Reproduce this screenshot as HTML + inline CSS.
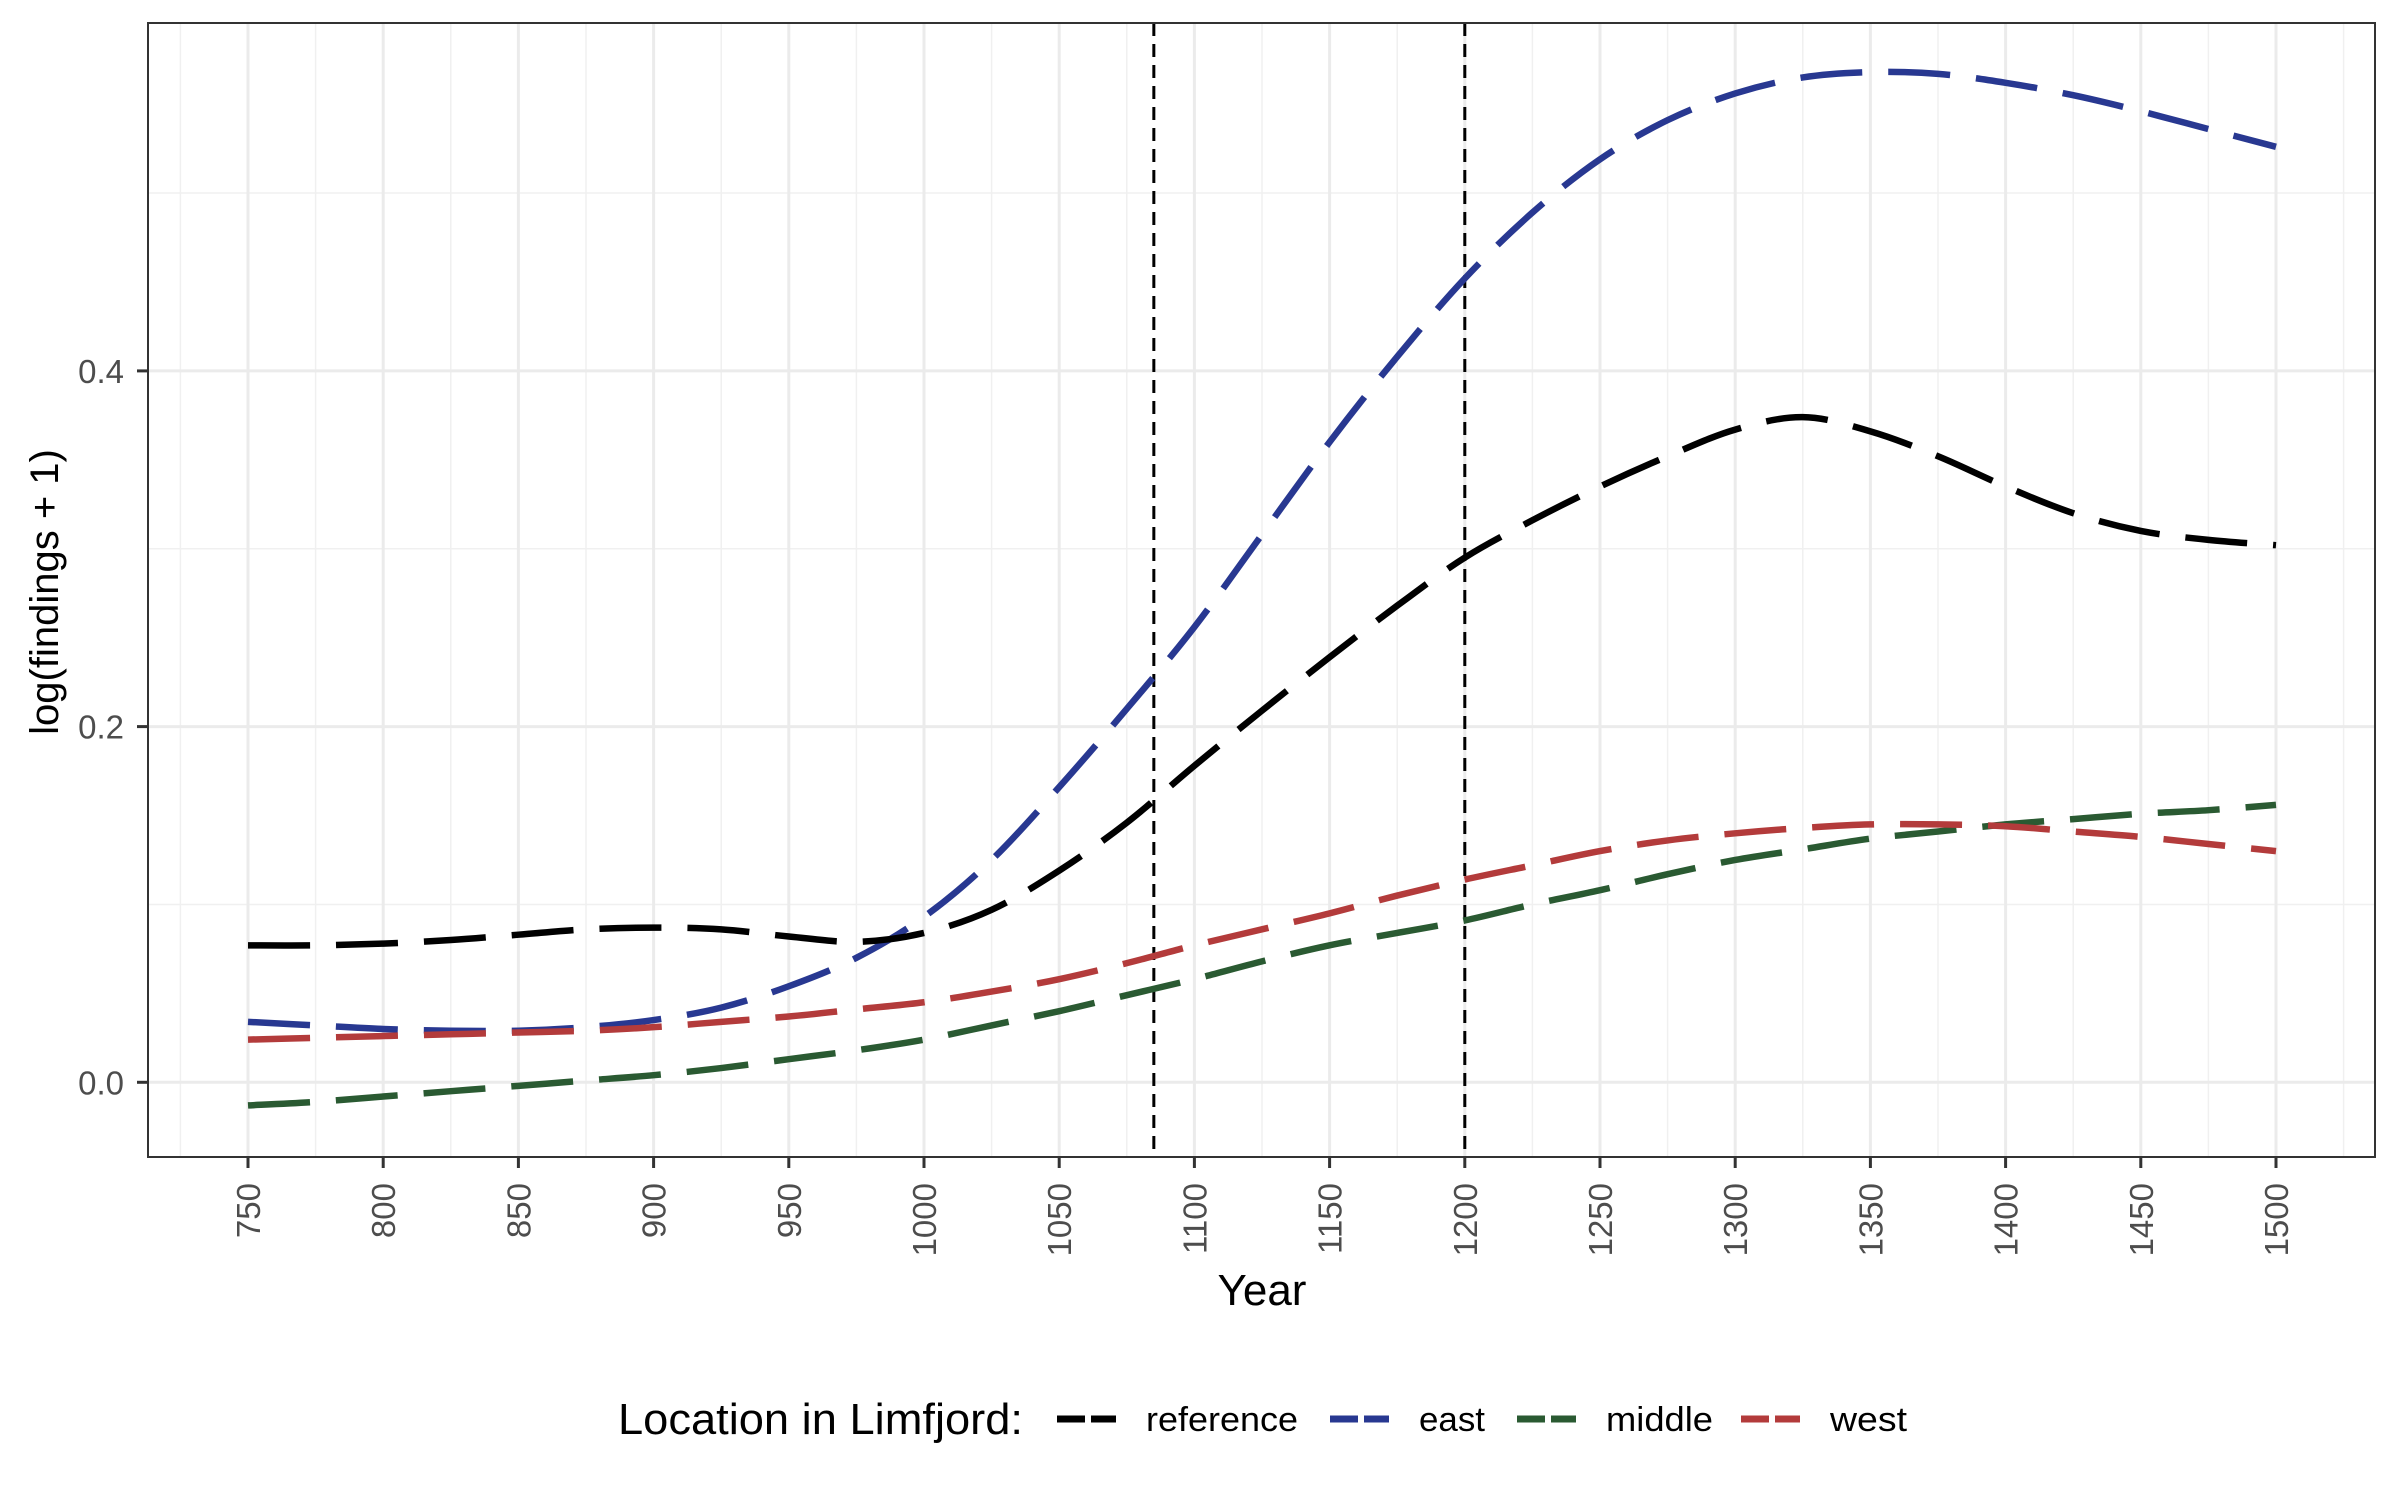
<!DOCTYPE html>
<html><head><meta charset="utf-8"><style>
html,body{margin:0;padding:0;background:#fff;}
svg{display:block;font-family:"Liberation Sans",Arial,sans-serif;}
</style></head><body>
<svg id="chart" width="2400" height="1500" viewBox="0 0 2400 1500" xmlns="http://www.w3.org/2000/svg">
<rect x="0" y="0" width="2400" height="1500" fill="#fff"/>
<g id="grid"></g>
<g id="vlines"></g>
<g id="series"></g>
<rect x="148" y="23" width="2227" height="1134" fill="none" stroke="#333" stroke-width="2"/>
<g id="axes"></g>
<text x="1262" y="1305" font-size="44" text-anchor="middle" fill="#000">Year</text>
<text transform="translate(58,592) rotate(-90)" font-size="40" text-anchor="middle" fill="#000">log(findings + 1)</text>
<g id="legend">
<text x="618" y="1434" font-size="44" textLength="405" lengthAdjust="spacingAndGlyphs" fill="#000">Location in Limfjord:</text>
</g>
</svg>
<script>
const years = [750,775,800,825,850,875,900,925,950,975,1000,1025,1050,1075,1100,1125,1150,1175,1200,1225,1250,1275,1300,1325,1350,1375,1400,1425,1450,1475,1500];
const refVals = [0.077,0.077,0.078,0.080,0.083,0.086,0.087,0.086,0.082,0.079,0.084,0.097,0.119,0.146,0.178,0.209,0.239,0.268,0.295,0.316,0.335,0.352,0.367,0.374,0.366,0.352,0.335,0.320,0.310,0.305,0.302];
const eastVals = [0.034,0.032,0.030,0.029,0.029,0.031,0.035,0.042,0.054,0.070,0.093,0.125,0.166,0.210,0.256,0.308,0.360,0.408,0.452,0.489,0.519,0.541,0.556,0.565,0.568,0.567,0.562,0.555,0.546,0.536,0.526];
const middleVals = [-0.013,-0.011,-0.008,-0.005,-0.002,0.001,0.004,0.008,0.013,0.018,0.024,0.032,0.040,0.049,0.058,0.068,0.077,0.084,0.091,0.100,0.108,0.117,0.125,0.131,0.137,0.141,0.145,0.148,0.151,0.153,0.156];
const westVals = [0.024,0.025,0.026,0.027,0.028,0.029,0.031,0.034,0.037,0.041,0.045,0.051,0.058,0.067,0.077,0.086,0.095,0.105,0.114,0.122,0.130,0.136,0.140,0.143,0.145,0.145,0.144,0.141,0.138,0.134,0.130];
const seriesNames = ["reference","east","middle","west"];
const seriesColors = ["#000000","#283891","#2a5a32","#b33b3b"];
const xTicks = [750,800,850,900,950,1000,1050,1100,1150,1200,1250,1300,1350,1400,1450,1500];
const yTicks = [0.0,0.2,0.4];
const yMinor = [0.1,0.3,0.5];
const eventYears = [1085,1200];

const NS = "http://www.w3.org/2000/svg";
function X(v){return 248 + (v-750)*(2276-248)/750;}
function Y(v){return 1082.3 - v*1778.5;}
function mk(tag, attrs, parent){const e=document.createElementNS(NS,tag);for(const k in attrs)e.setAttribute(k,attrs[k]);parent.appendChild(e);return e;}
const grid=document.getElementById('grid'), axes=document.getElementById('axes');
for(let i=0;i<=xTicks.length;i++){
  const v = 725 + i*50;
  const l=mk('line',{x1:X(v),x2:X(v),y1:23,y2:1157,stroke:'#f0f0f0','stroke-width':1.5},grid);
  
  
}
yMinor.forEach(v=>{
  const l=mk('line',{x1:148,x2:2375,y1:Y(v),y2:Y(v),stroke:'#f0f0f0','stroke-width':1.5},grid);
  
  
});
xTicks.forEach(v=>{
  const l=mk('line',{x1:X(v),x2:X(v),y1:23,y2:1157,stroke:'#ebebeb','stroke-width':3},grid);
  
  
  const t=mk('line',{x1:X(v),x2:X(v),y1:1157,y2:1168,stroke:'#333','stroke-width':3},axes);
  
  
  const tx=mk('text',{transform:`translate(${X(v)+12},1183) rotate(-90)`,'font-size':33,'text-anchor':'end',fill:'#4d4d4d'},axes);
  tx.textContent=v;
  
  
});
yTicks.forEach(v=>{
  const l=mk('line',{x1:148,x2:2375,y1:Y(v),y2:Y(v),stroke:'#ebebeb','stroke-width':3},grid);
  
  
  const t=mk('line',{x1:137,x2:148,y1:Y(v),y2:Y(v),stroke:'#333','stroke-width':3},axes);
  
  
  const tx=mk('text',{x:124,y:Y(v)+12,'font-size':33,'text-anchor':'end',fill:'#4d4d4d'},axes);
  tx.textContent=v.toFixed(1);
  
  
});
const vl=document.getElementById('vlines');
eventYears.forEach(v=>{
  const l=mk('line',{x1:X(v),x2:X(v),y1:23,y2:1157,stroke:'#000','stroke-width':3,'stroke-dasharray':'13 8'},vl);
  
  
});
function pathFor(vals){
  const p=years.map((y,i)=>[X(y),Y(vals[i])]);
  let d=`M${p[0][0]},${p[0][1]}`;
  for(let i=0;i<p.length-1;i++){
    const p0=p[Math.max(0,i-1)],p1=p[i],p2=p[i+1],p3=p[Math.min(p.length-1,i+2)];
    const c1=[p1[0]+(p2[0]-p0[0])/6,p1[1]+(p2[1]-p0[1])/6];
    const c2=[p2[0]-(p3[0]-p1[0])/6,p2[1]-(p3[1]-p1[1])/6];
    d+=` C${c1[0]},${c1[1]} ${c2[0]},${c2[1]} ${p2[0]},${p2[1]}`;
  }
  return d;
}
const allVals=[refVals,eastVals,middleVals,westVals];
const sg=document.getElementById('series');
[1,2,3,0].forEach(i=>{
  const p=mk('path',{d:pathFor(allVals[i]),fill:'none',stroke:seriesColors[i],'stroke-width':6.5,'stroke-dasharray':'62 26'},sg);
  
  
});
const lg=document.getElementById('legend');
const keyX=[1057,1330,1517,1741];
const labelW=[152,66,107,77];
seriesNames.forEach((n,i)=>{
  const k=mk('line',{x1:keyX[i],x2:keyX[i]+59,y1:1419,y2:1419,stroke:seriesColors[i],'stroke-width':7,'stroke-dasharray':'28 6'},lg);
  
  
  const t=mk('text',{x:keyX[i]+89,y:1431,'font-size':34,fill:'#000',textLength:labelW[i],lengthAdjust:'spacingAndGlyphs'},lg);
  t.textContent=n;
  
  
});
</script>
</body></html>
